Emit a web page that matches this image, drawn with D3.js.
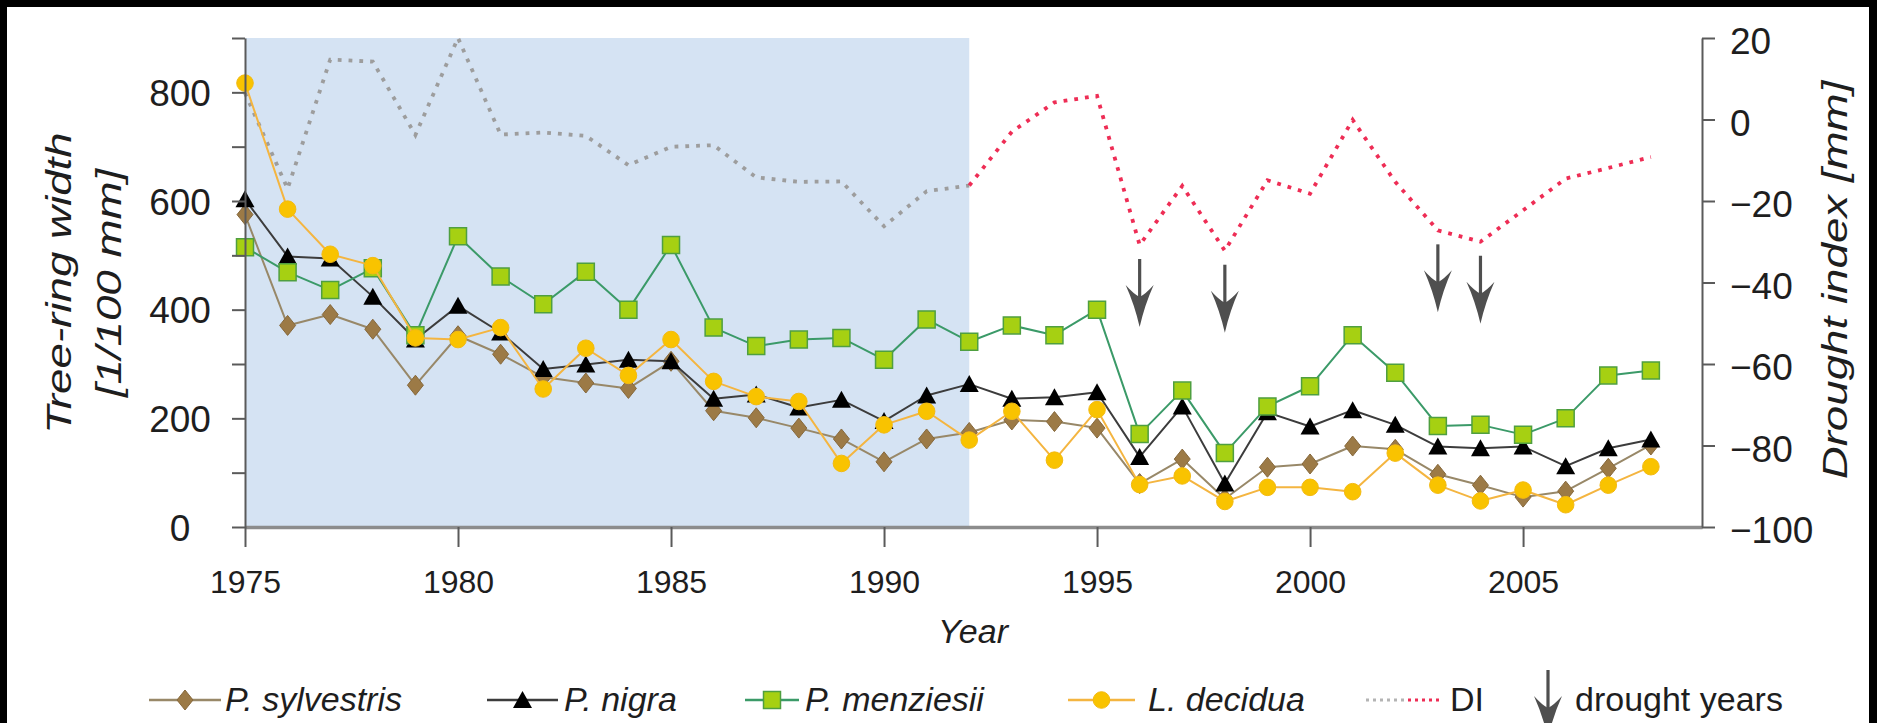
<!DOCTYPE html>
<html>
<head>
<meta charset="utf-8">
<script src="https://cdn.jsdelivr.net/npm/d3@7"></script>
<style>
  html, body { margin: 0; padding: 0; background: #000; }
  svg { display: block; }
  text { font-family: "Liberation Sans", Arial, Helvetica, sans-serif; fill: #1e1e1e; }
</style>
</head>
<body>
<svg id="chart" width="1877" height="723"></svg>
<script>
// ---- data (tree-ring width in 1/100 mm, drought index in mm) ----
const years = [1975, 1976, 1977, 1978, 1979, 1980, 1981, 1982, 1983, 1984,
               1985, 1986, 1987, 1988, 1989, 1990, 1991, 1992, 1993, 1994,
               1995, 1996, 1997, 1998, 1999, 2000, 2001, 2002, 2003, 2004,
               2005, 2006, 2007, 2008];

const sylvestris = [575, 371, 391, 364, 261, 352, 318, 276, 265, 255,
                    305, 214, 201, 182, 162, 120, 162, 174, 197, 194,
                    182, 80, 125, 52, 110, 116, 149, 143, 97, 77,
                    55, 66, 108, 151];

const nigra = [603, 498, 494, 424, 345, 407, 358, 291, 299, 308,
               305, 236, 244, 220, 234, 195, 242, 263, 236, 239,
               248, 129, 222, 80, 211, 185, 215, 188, 148, 145,
               148, 112, 145, 161];

const menziesii = [515, 469, 436, 476, 353, 535, 461, 410, 470, 400,
                   519, 367, 333, 345, 348, 308, 382, 341, 371, 353,
                   400, 171, 251, 136, 222, 259, 353, 284, 186, 188,
                   170, 200, 279, 288];

const decidua = [817, 585, 502, 481, 348, 345, 367, 254, 329, 279,
                 345, 268, 240, 231, 117, 188, 213, 160, 213, 123,
                 216, 78, 94, 47, 73, 73, 65, 136, 77, 48,
                 68, 41, 77, 111];

const droughtIndex = [6.5, -17.0, 14.7, 14.2, -3.8, 20.0, -3.7, -3.2, -4.0, -11.2,
                      -6.7, -6.3, -14.2, -15.3, -15.2, -26.2, -17.6, -16.2, -3.0, 4.2,
                      5.8, -30.8, -16.3, -32.2, -14.9, -18.2, -0.1, -15.3, -27.2, -30.0,
                      -22.3, -14.5, -11.9, -9.2];

const droughtYears = [1996, 1998, 2003, 2004];
const periodStart = 1975, periodEnd = 1992;      // shaded reference period

const leftTicks = [0, 100, 200, 300, 400, 500, 600, 700, 800, 900];
const leftLabels = [0, 200, 400, 600, 800];
const rightTicks = [-100, -80, -60, -40, -20, 0, 20];
const yearTicks = [1975, 1980, 1985, 1990, 1995, 2000, 2005];

// ---- layout ----
const W = 1877, H = 723;
const svg = d3.select("#chart");

svg.append("rect").attr("x", 0).attr("y", 0).attr("width", W).attr("height", H).attr("fill", "#000");
svg.append("rect").attr("x", 7).attr("y", 7).attr("width", W - 15).attr("height", H - 7).attr("fill", "#fff");

const x = d3.scaleLinear().domain([1975, 2009.2]).range([245, 1702]);
const yL = d3.scaleLinear().domain([0, 900]).range([527, 38]);
const yR = d3.scaleLinear().domain([-100, 20]).range([527, 38]);

const rows = (vals) => years.map((yr, i) => ({ year: yr, v: vals[i] }));

// shaded period
svg.append("rect")
  .attr("x", x(periodStart)).attr("y", yL(900))
  .attr("width", x(periodEnd) - x(periodStart))
  .attr("height", yL(0) - yL(900))
  .attr("fill", "#d5e3f3");

// ---- drought index (grey until end of period, red afterwards) ----
const diRows = rows(droughtIndex);
const diLine = d3.line().x(d => x(d.year)).y(d => yR(d.v));
svg.append("path")
  .attr("d", diLine(diRows.filter(d => d.year <= periodEnd)))
  .attr("fill", "none").attr("stroke", "#9d9d9d")
  .attr("stroke-width", 3.8).attr("stroke-dasharray", "3.8,7");
svg.append("path")
  .attr("d", diLine(diRows.filter(d => d.year >= periodEnd)))
  .attr("fill", "none").attr("stroke", "#ee2d55")
  .attr("stroke-width", 3.8).attr("stroke-dasharray", "3.8,7");

// ---- marker shapes ----
const shapes = {
  diamond: "M0,-10L8,0L0,10L-8,0Z",
  triangle: "M0,-9L9.5,8L-9.5,8Z",
  square: "M-8.5,-8.5H8.5V8.5H-8.5Z",
  circle: "M-8.3,0A8.3,8.3 0 1,0 8.3,0A8.3,8.3 0 1,0 -8.3,0Z"
};

const series = [
  { name: "P. sylvestris", values: sylvestris, line: "#988868", lw: 2,   shape: "diamond",  fill: "#9c7a46", stroke: "#86683b", sw: 1 },
  { name: "P. nigra",      values: nigra,      line: "#3c3c3c", lw: 2,   shape: "triangle", fill: "#000",    stroke: "#000",    sw: 0 },
  { name: "P. menziesii",  values: menziesii,  line: "#3b9a68", lw: 2,   shape: "square",   fill: "#a6d012", stroke: "#4f9f40", sw: 1.5 },
  { name: "L. decidua",    values: decidua,    line: "#f4b540", lw: 2,   shape: "circle",   fill: "#f9c300", stroke: "#f3ba12", sw: 1 }
];

const wLine = d3.line().x(d => x(d.year)).y(d => yL(d.v));

series.forEach(s => {
  const g = svg.append("g");
  g.append("path")
    .attr("d", wLine(rows(s.values)))
    .attr("fill", "none").attr("stroke", s.line).attr("stroke-width", s.lw)
    .attr("stroke-linejoin", "round");
  g.selectAll("path.mk").data(rows(s.values)).join("path")
    .attr("class", "mk")
    .attr("transform", d => `translate(${x(d.year)},${yL(d.v)})`)
    .attr("d", shapes[s.shape])
    .attr("fill", s.fill).attr("stroke", s.stroke).attr("stroke-width", s.sw);
});

// ---- drought-year arrows ----
function arrow(g, len) {
  g.append("line").attr("x1", 0).attr("y1", 0).attr("x2", 0).attr("y2", len - 12)
    .attr("stroke", "#4f4f4f").attr("stroke-width", 3.2);
  g.append("path")
    .attr("d", `M0,${len}Q-5,${len - 22} -14,${len - 42}Q-6,${len - 33} 0,${len - 30}Q6,${len - 33} 14,${len - 42}Q5,${len - 22} 0,${len}Z`)
    .attr("fill", "#4f4f4f");
}
droughtYears.forEach(yr => {
  const v = droughtIndex[years.indexOf(yr)];
  const g = svg.append("g").attr("transform", `translate(${x(yr)},${yR(v) + 14})`);
  arrow(g, 68);
});

// ---- axes ----
const axisColor = "#5a5a5a";

const gx = svg.append("g").attr("transform", `translate(0,${yL(0)})`)
  .call(d3.axisBottom(x).tickValues(yearTicks).tickSize(20).tickSizeOuter(0).tickFormat(d3.format("d")));
gx.select(".domain").attr("stroke", "#8c8c8c").attr("stroke-width", 3.5);
gx.selectAll(".tick line").attr("stroke", axisColor).attr("stroke-width", 2);
gx.selectAll(".tick text").attr("y", 66).attr("dy", null).style("font-size", "32px");

const gl = svg.append("g").attr("transform", `translate(${x(1975)},0)`)
  .call(d3.axisLeft(yL).tickValues(leftTicks).tickSize(13).tickSizeOuter(0)
    .tickFormat(d => leftLabels.includes(d) ? d : ""));
gl.select(".domain").attr("stroke", axisColor).attr("stroke-width", 2);
gl.selectAll(".tick line").attr("stroke", axisColor).attr("stroke-width", 2);
gl.selectAll(".tick text").attr("x", -65).attr("text-anchor", "middle")
  .attr("dy", "0.36em").style("font-size", "37px");

const gr = svg.append("g").attr("transform", `translate(${x.range()[1]},0)`)
  .call(d3.axisRight(yR).tickValues(rightTicks).tickSize(13).tickSizeOuter(0));
gr.select(".domain").attr("stroke", axisColor).attr("stroke-width", 2);
gr.selectAll(".tick line").attr("stroke", axisColor).attr("stroke-width", 2);
gr.selectAll(".tick text").attr("x", 28).attr("text-anchor", "start")
  .attr("dy", "0.42em").style("font-size", "37px");

// ---- axis titles ----
function vTitle(cx, cy, txt) {
  svg.append("text")
    .attr("transform", `translate(${cx},${cy}) rotate(-90) scale(1.27,1)`)
    .attr("text-anchor", "middle").attr("dy", "0.35em")
    .style("font-size", "36px").style("font-style", "italic")
    .text(txt);
}
vTitle(58, 283, "Tree-ring width");
vTitle(108, 283, "[1/100 mm]");
vTitle(1834, 280, "Drought index [mm]");

svg.append("text").attr("x", 973).attr("y", 643).attr("text-anchor", "middle")
  .style("font-size", "34px").style("font-style", "italic").text("Year");

// ---- legend ----
const ly = 700, lBase = 711;
const legendPos = [
  { x1: 149, x2: 221, tx: 225 },
  { x1: 487, x2: 558, tx: 564 },
  { x1: 745, x2: 799, tx: 805 },
  { x1: 1068, x2: 1135, tx: 1148 }
];
series.forEach((s, i) => {
  const p = legendPos[i];
  svg.append("line").attr("x1", p.x1).attr("x2", p.x2).attr("y1", ly).attr("y2", ly)
    .attr("stroke", s.line).attr("stroke-width", 2.5);
  svg.append("path").attr("transform", `translate(${(p.x1 + p.x2) / 2},${ly})`)
    .attr("d", shapes[s.shape]).attr("fill", s.fill).attr("stroke", s.stroke).attr("stroke-width", s.sw);
  svg.append("text").attr("x", p.tx).attr("y", lBase)
    .style("font-size", "34px").style("font-style", "italic").text(s.name);
});

svg.append("line").attr("x1", 1366).attr("x2", 1405).attr("y1", ly).attr("y2", ly)
  .attr("stroke", "#b4b4b4").attr("stroke-width", 3).attr("stroke-dasharray", "3,4");
svg.append("line").attr("x1", 1408).attr("x2", 1442).attr("y1", ly).attr("y2", ly)
  .attr("stroke", "#ee2d55").attr("stroke-width", 3).attr("stroke-dasharray", "3,4");
svg.append("text").attr("x", 1450).attr("y", lBase).style("font-size", "34px").text("DI");

arrow(svg.append("g").attr("transform", "translate(1548,670)"), 68);
svg.append("text").attr("x", 1575).attr("y", lBase).style("font-size", "34px").text("drought years");
</script>
</body>
</html>
